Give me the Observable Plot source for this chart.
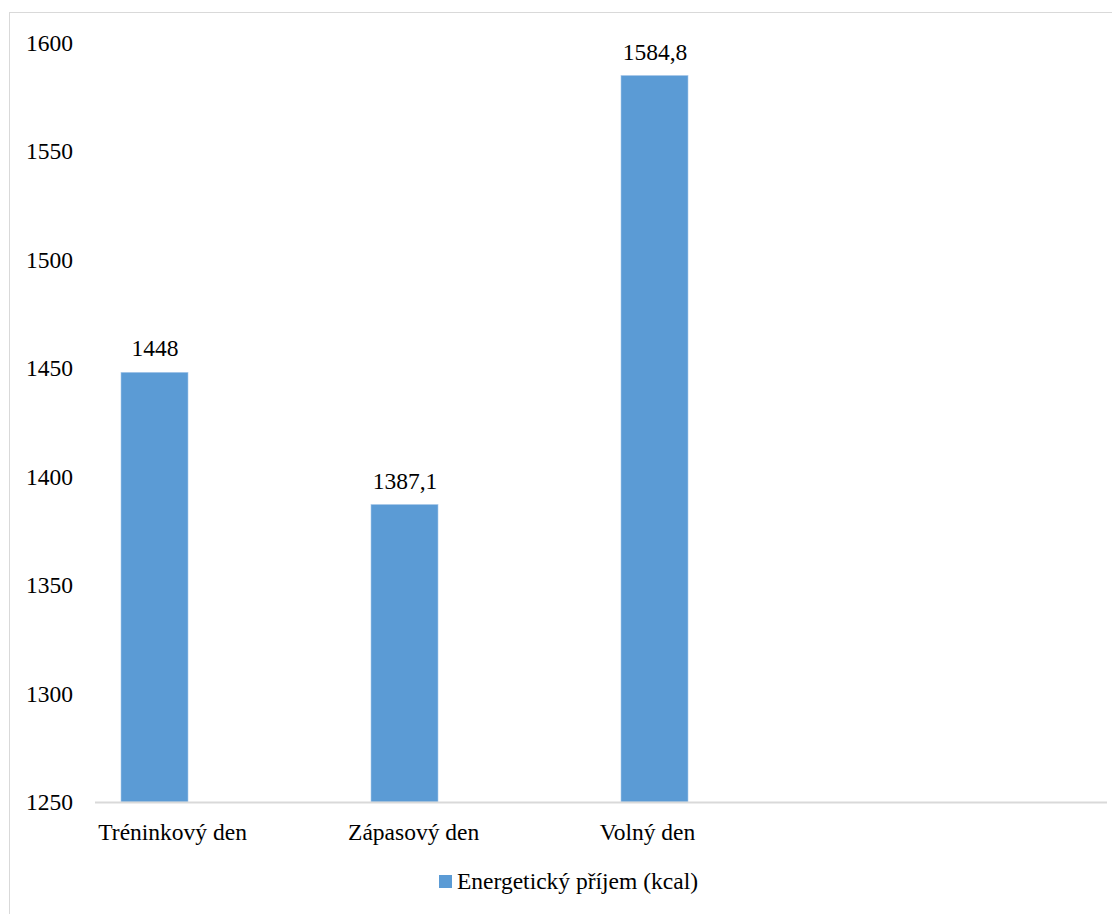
<!DOCTYPE html>
<html>
<head>
<meta charset="utf-8">
<script src="https://cdn.jsdelivr.net/npm/d3@7"></script>
<script src="https://cdn.jsdelivr.net/npm/@observablehq/plot@0.6"></script>
<style>
  html, body { margin: 0; padding: 0; width: 1112px; height: 914px; overflow: hidden; background: #fff; }
  body { position: relative; }
  body, body *, svg text, svg tspan { font-family: 'Liberation Serif', 'Times New Roman', Tinos, serif !important; }
  #frame { position: absolute; left: 9px; top: 12px; width: 1200px; height: 1000px; border: 1px solid #d9d9d9; box-sizing: border-box; }
  #chart { position: absolute; left: 0; top: 0; }
  #legend { position: absolute; left: 439px; top: 868px; height: 26px; display: flex; align-items: center; font-size: 23.5px; line-height: 26px; color: #000; white-space: nowrap; }
  #legend .sw { width: 13px; height: 13px; margin-right: 5px; }
</style>
</head>
<body>
<div id="frame"></div>
<div id="chart"></div>
<div id="legend"></div>
<script>
// ---- data ----
const categories = ["Tréninkový den", "Zápasový den", "Volný den"];
const values = [1448, 1387.1, 1584.8];
const valueLabels = ["1448", "1387,1", "1584,8"];
const yTicks = [1250, 1300, 1350, 1400, 1450, 1500, 1550, 1600];
const seriesName = "Energetický příjem (kcal)";
const yBase = 1250;

// ---- style ----
const barColor = "#5b9bd5";
const labelShift = [17.6, 8.6, -7.5];
const font = "Liberation Serif";
const fs = 23.5;

const data = categories.map((c, i) => ({ cat: c, value: values[i], label: valueLabels[i], base: yBase }));

const chart = Plot.plot({
  width: 1112,
  height: 860,
  marginTop: 42.5,
  marginBottom: 58,
  marginLeft: 95,
  marginRight: 5,
  style: { background: "transparent", color: "#000" },
  x: { type: "band", domain: categories, range: [120, 687.5], paddingInner: 0.734, paddingOuter: 0 },
  y: { domain: [1250, 1600] },
  marks: [
    Plot.rectY(data, { x: "cat", y1: "base", y2: "value", fill: barColor, stroke: "#a9c9ea", strokeWidth: 0.6 }),
    Plot.ruleY([yBase], { stroke: "#d9d9d9", strokeWidth: 2 }),
    Plot.text(data, { x: "cat", y: "value", text: "label", dy: -24, lineAnchor: "middle", fill: "#000", fontSize: fs, fontFamily: font }),
    Plot.axisY({ ticks: yTicks, tickSize: 0, tickPadding: 22.5, textAnchor: "end", label: null, fontSize: fs, fontFamily: font, fill: "#000", tickFormat: d => String(d) }),
    ...categories.map((c, i) => Plot.axisX({ ticks: [c], tickSize: 0, tickPadding: 21, label: null, fontSize: fs, fontFamily: font, fill: "#000", dx: labelShift[i] }))
  ]
});
document.getElementById("chart").appendChild(chart);

const legend = document.getElementById("legend");
const sw = document.createElement("div");
sw.className = "sw";
sw.style.background = barColor;
legend.appendChild(sw);
const t = document.createElement("span");
t.textContent = seriesName;
legend.appendChild(t);
</script>
</body>
</html>
